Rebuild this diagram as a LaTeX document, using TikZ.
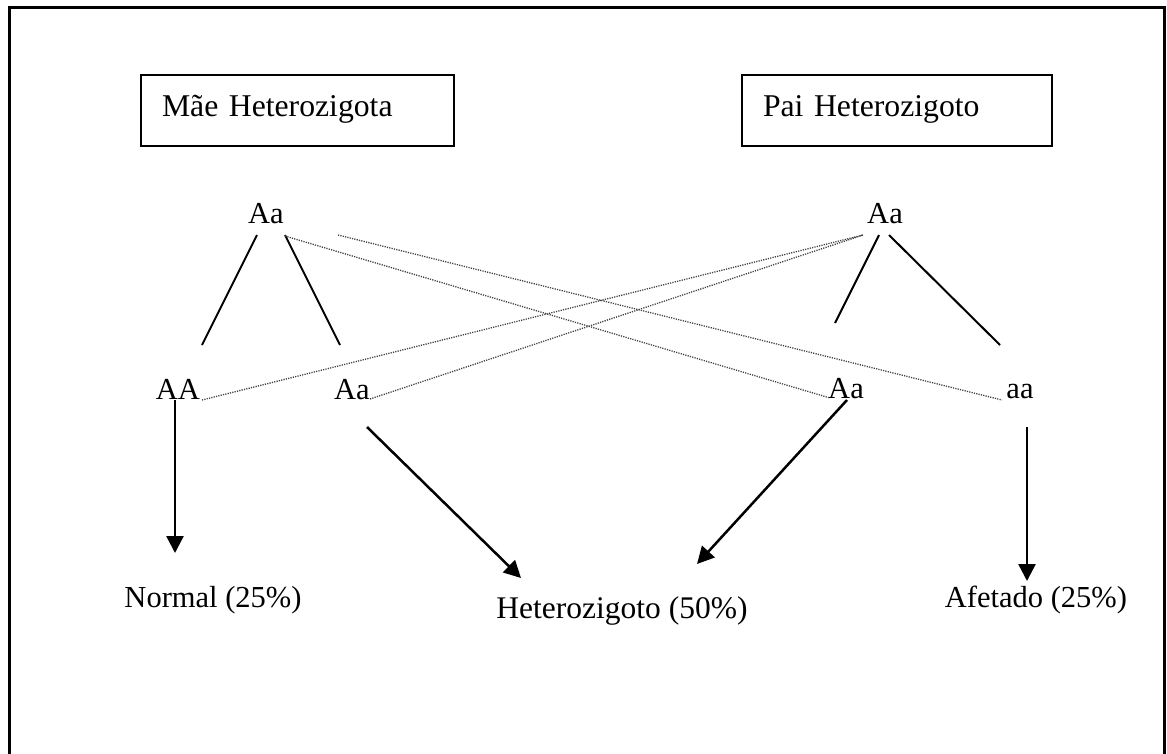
\documentclass[tikz,border=0pt]{standalone}
\usepackage{fontspec}
\setmainfont{Liberation Serif}
\usetikzlibrary{arrows.meta}
\begin{document}
\begin{tikzpicture}[x=1pt,y=-1pt,
  gene/.style={inner sep=0pt, anchor=base, font=\fontsize{30.5}{36}\selectfont},
  parentbox/.style={draw, line width=2pt, anchor=north west, minimum height=71pt,
     inner xsep=21pt, inner ysep=0pt, align=left, text height=22pt, text depth=11pt,
     font=\fontsize{31.7}{38}\selectfont},
  branch/.style={line width=2pt},
  cross/.style={line width=1.3pt, gray!50!black, dash pattern=on 1.2pt off 1.2pt},
  result/.style={line width=2.5pt, -{Triangle[width=17pt,length=17pt]}}
]
\useasboundingbox (0,0) rectangle (1167,753);
\draw[line width=3pt] (9.5,7.5) rectangle (1164.5,760);

% parent boxes
\node[parentbox, text width=271pt] (mae) at (140,74) {Mãe Heterozigota};
\node[parentbox, text width=268pt] (pai) at (741,74) {Pai Heterozigoto};

% parent genotypes
\node[gene] (mAa) at (266,223) {Aa};
\node[gene] (pAa) at (885,223) {Aa};

% offspring genotypes
\node[gene] (AA)  at (178,399) {AA};
\node[gene] (Aa1) at (352,399) {Aa};
\node[gene] (Aa2) at (846,398) {Aa};
\node[gene] (aa)  at (1020,398) {aa};

% result labels
\node[gene] (normal) at (213,607) {Normal (25\%)};
\node[gene, font=\fontsize{31.5}{38}\selectfont] (hetero) at (622,618) {Heterozigoto (50\%)};
\node[gene] (afetado) at (1036,607) {Afetado (25\%)};

% branch end points
\coordinate (mL1) at (257,235); \coordinate (mL2) at (202,345);
\coordinate (mR1) at (285,235); \coordinate (mR2) at (340,345);
\coordinate (pL1) at (879,235); \coordinate (pL2) at (835,323);
\coordinate (pR1) at (889,235); \coordinate (pR2) at (1000,345);

\draw[branch] (mL1) -- (mL2);
\draw[branch] (mR1) -- (mR2);
\draw[branch] (pL1) -- (pL2);
\draw[branch] (pR1) -- (pR2);

% crossing dotted lines
\coordinate (pAaIn) at (863,235);
\coordinate (mAaOut) at (285,236);
\coordinate (mAaOut2) at (338,235);
\coordinate (AAr) at (202,400);
\coordinate (Aa1r) at (370,399);
\coordinate (Aa2l) at (830,398);
\coordinate (aal) at (1002,400);

\draw[cross] (AAr) -- (pAaIn);
\draw[cross] (Aa1r) -- (pAaIn);
\draw[cross] (mAaOut) -- (Aa2l);
\draw[cross] (mAaOut2) -- (aal);

% result arrows
\coordinate (a1s) at (175,400); \coordinate (a1e) at (175,553);
\coordinate (a2s) at (367,427); \coordinate (a2e) at (521,578);
\coordinate (a3s) at (847,400); \coordinate (a3e) at (697,564);
\coordinate (a4s) at (1027,427); \coordinate (a4e) at (1027,581);

\draw[result] (a1s) -- (a1e);
\draw[result] (a2s) -- (a2e);
\draw[result] (a3s) -- (a3e);
\draw[result] (a4s) -- (a4e);
\end{tikzpicture}
\end{document}
